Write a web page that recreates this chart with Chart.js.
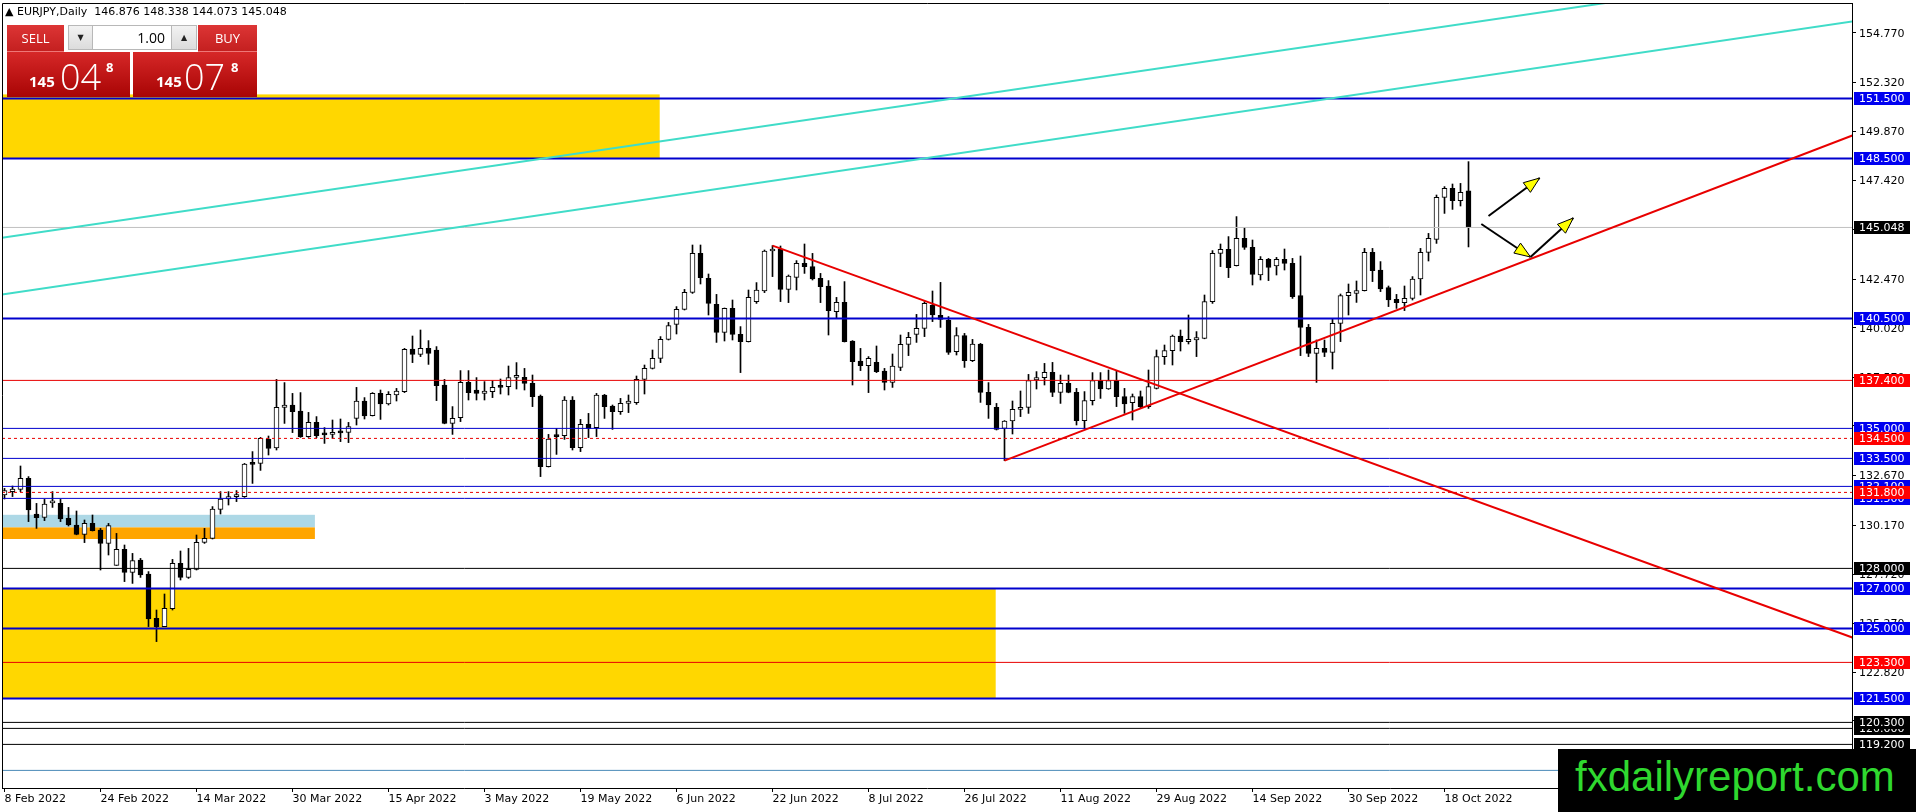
<!DOCTYPE html>
<html><head><meta charset="utf-8">
<script src="https://cdn.jsdelivr.net/npm/chart.js@4.4.1/dist/chart.umd.min.js"></script>
<style>
html,body{margin:0;padding:0;background:#fff;overflow:hidden}
#wrap{position:relative;width:1916px;height:812px;background:#fff}
#c{position:absolute;left:0;top:0}
.abs{position:absolute;box-sizing:border-box}
.hdr{left:5px;top:5px;font:11px 'DejaVu Sans';color:#000;white-space:pre;line-height:14px}
.redb{background:linear-gradient(#dd3535,#c42020);color:#fff;font:13px 'Open Sans';text-align:center}
.gbtn{background:linear-gradient(#f2f2f2,#dcdcdc);border:1px solid #b8b8b8;font:8px 'DejaVu Sans';color:#222;text-align:center;line-height:23px}
.inp{background:#fff;border:1px solid #b8b8b8;font:14px 'Open Sans';color:#000;text-align:right;padding-right:6px;line-height:23px}
.big{background:linear-gradient(#d62828,#a80404);color:#fff;font-family:'Open Sans'}
.big .s{position:absolute;font-weight:bold;font-size:15px;bottom:6px}
.big .b{position:absolute;font-weight:300;font-size:36px;bottom:2px;line-height:36px}
.big .p{position:absolute;font-weight:bold;font-size:13px;top:6px}
.wm{left:1558px;top:749px;width:358px;height:63px;background:#000;color:#2fd82f;font:42px 'Liberation Sans';line-height:55px;padding-left:17px;white-space:nowrap}
</style></head><body>
<div id="wrap">
<canvas id="c" width="1916" height="812"></canvas>
<div class="abs hdr">▲ EURJPY,Daily  146.876 148.338 144.073 145.048</div>
<div class="abs redb" style="left:7px;top:25px;width:57px;height:27px;line-height:26px;border-bottom:1px solid #e77">SELL</div>
<div class="abs gbtn" style="left:68px;top:25px;width:25px;height:25px">▼</div>
<div class="abs inp" style="left:92px;top:25px;width:80px;height:25px">1.00</div>
<div class="abs gbtn" style="left:171px;top:25px;width:26px;height:25px">▲</div>
<div class="abs redb" style="left:198px;top:25px;width:59px;height:27px;line-height:26px;border-bottom:1px solid #e77">BUY</div>
<div class="abs big" style="left:7px;top:52px;width:123px;height:45px">
  <span class="s" style="left:22px">145</span><span class="b" style="left:53px">04</span><span class="p" style="left:99px">8</span>
</div>
<div class="abs big" style="left:133px;top:52px;width:124px;height:45px">
  <span class="s" style="left:23px">145</span><span class="b" style="left:51px">07</span><span class="p" style="left:98px">8</span>
</div>
<div class="abs wm">fxdailyreport.com</div>
</div>
<script>
// ---------- DATA ----------
const opens  = [131.67,131.84,131.95,132.50,130.72,130.55,131.28,131.25,130.50,130.17,129.70,130.25,129.92,129.25,128.15,128.95,127.80,128.42,127.72,125.50,125.09,125.99,128.25,127.55,127.95,129.30,129.50,130.95,131.47,131.59,131.59,133.25,133.25,134.47,134.03,136.05,136.17,135.87,134.59,135.30,134.70,134.70,134.80,134.80,135.50,136.37,135.64,136.75,136.22,136.67,136.84,138.97,138.70,139.00,138.92,137.17,135.25,135.54,137.30,136.92,136.75,136.84,137.09,137.09,137.55,137.55,137.25,136.62,133.09,134.67,134.64,136.42,134.04,135.20,135.04,136.67,136.12,135.84,136.25,136.29,137.45,138.00,138.50,139.45,140.20,140.95,141.80,143.75,142.50,141.20,139.80,141.00,139.70,139.34,141.34,141.87,143.87,143.95,141.95,142.55,143.25,143.09,142.50,142.12,140.84,141.30,139.37,138.37,138.14,138.30,137.87,137.30,138.05,139.20,139.70,140.00,141.17,140.65,140.42,138.84,139.64,138.39,139.22,136.80,136.05,135.00,135.37,135.95,136.05,137.42,137.54,137.80,136.80,137.25,136.80,135.39,136.39,137.39,136.97,137.39,136.59,136.29,136.59,136.09,137.00,138.59,138.89,139.62,139.34,139.42,139.50,141.34,143.75,143.95,143.14,144.50,144.05,142.67,143.45,143.12,143.45,143.25,141.64,140.05,138.75,139.00,138.80,140.25,141.64,141.75,141.89,143.80,142.92,142.04,141.45,141.29,141.50,142.47,143.80,144.45,146.55,147.00,146.39,146.876];
const highs  = [132.00,132.12,133.12,132.59,131.25,131.45,131.84,131.45,131.05,130.87,130.42,130.67,130.00,130.25,129.75,129.17,128.75,128.50,127.84,125.92,126.72,128.45,128.87,129.00,129.67,130.00,131.09,131.84,131.84,131.89,133.25,133.84,134.55,134.62,137.45,137.29,136.75,136.79,135.80,135.59,135.04,135.42,135.47,135.30,137.05,136.54,136.79,136.92,136.84,137.00,139.00,139.62,139.92,139.39,139.09,137.45,136.09,137.89,137.89,137.54,137.34,137.39,137.47,138.12,138.29,138.00,137.67,136.67,134.70,135.00,136.59,136.59,135.45,135.75,136.75,136.70,136.17,136.50,136.67,137.62,138.17,138.92,139.59,140.30,141.09,141.95,144.17,144.17,142.72,141.70,141.02,141.42,140.09,141.92,142.29,143.92,144.14,144.12,142.67,143.39,144.22,143.75,142.75,142.39,141.55,142.34,139.39,139.00,138.59,139.12,138.00,138.72,139.67,139.80,140.70,141.34,141.87,142.30,140.59,140.04,139.75,139.45,139.25,137.29,136.25,135.39,136.37,136.87,137.70,137.84,138.25,138.30,137.67,137.67,137.00,136.84,137.79,137.79,137.92,137.87,137.00,136.72,136.87,137.92,138.92,139.17,139.67,139.92,140.67,139.84,141.67,143.89,144.22,144.59,145.59,145.05,144.42,143.59,143.50,143.55,143.97,143.50,143.62,140.20,139.42,139.42,140.50,141.72,142.22,142.37,144.00,144.00,143.34,142.12,141.70,142.12,142.59,144.00,144.75,146.67,147.09,147.22,147.25,148.338];
const lows   = [131.47,131.59,131.84,130.34,130.00,130.39,131.05,130.34,130.12,129.68,129.29,129.87,127.92,128.67,128.15,127.34,127.25,127.55,125.09,124.34,125.09,125.92,127.42,127.50,127.92,129.25,129.47,130.72,131.17,131.34,131.55,132.25,132.90,133.67,133.92,135.25,134.79,134.55,134.55,134.54,134.25,134.50,134.34,134.29,135.17,135.47,135.62,135.45,136.17,136.37,136.79,138.29,138.59,138.20,136.39,135.23,134.70,135.34,136.42,136.42,136.42,136.54,136.72,136.67,136.97,136.92,136.09,132.59,133.07,133.70,134.45,133.92,133.84,134.54,134.59,135.50,134.95,135.70,135.79,136.20,136.72,137.97,138.29,139.42,139.72,140.92,141.75,142.22,140.67,139.30,139.37,139.42,137.79,139.32,141.25,141.79,142.59,141.34,141.29,141.92,142.75,142.42,141.29,139.67,140.50,139.32,137.17,137.89,136.79,137.79,136.92,137.05,137.89,138.64,139.30,139.59,140.34,140.05,138.70,138.67,138.05,138.34,136.30,135.50,134.92,133.39,134.72,135.59,135.75,136.97,137.17,136.59,136.25,136.78,135.17,135.00,136.17,136.50,136.95,136.09,135.75,135.42,136.00,136.00,136.97,138.20,138.17,138.87,139.22,138.59,139.48,141.25,143.09,142.54,143.12,143.95,142.17,142.42,142.39,142.67,142.92,141.50,138.64,138.59,137.30,138.59,137.97,139.34,140.67,141.30,141.87,142.34,141.84,141.09,141.00,140.89,141.42,141.67,143.37,144.25,145.75,145.95,146.12,144.073];
const closes = [131.89,131.97,132.50,130.92,130.54,131.22,131.30,130.47,130.17,129.70,130.25,129.89,129.25,130.14,128.95,127.80,128.39,127.67,125.47,125.09,126.00,128.25,127.55,127.95,129.30,129.50,130.97,131.47,131.59,131.60,133.22,133.20,134.50,134.00,136.05,136.17,135.84,134.59,135.30,134.64,134.68,134.80,134.78,135.09,136.37,135.62,136.75,136.22,136.70,136.87,138.95,138.70,139.00,138.75,137.14,135.25,135.50,137.30,136.79,136.75,136.87,137.05,137.05,137.54,137.56,137.25,136.59,133.09,134.47,134.59,136.42,134.04,135.20,135.00,136.67,136.09,135.84,136.25,136.37,137.45,138.00,138.50,139.45,140.14,140.95,141.80,143.75,142.54,141.25,139.80,141.00,139.70,139.34,141.55,141.92,143.87,143.95,141.95,142.62,143.25,143.09,142.47,142.09,140.89,141.30,139.34,138.34,138.14,138.50,137.84,137.30,138.12,139.20,139.55,140.00,141.25,140.67,140.45,138.80,139.64,138.39,139.22,136.80,136.17,134.95,135.37,135.95,136.05,137.39,137.54,137.80,136.80,137.25,136.80,135.39,136.39,137.39,136.97,137.39,136.59,136.22,136.59,136.09,137.09,138.59,138.89,139.62,139.34,139.45,139.54,141.34,143.75,143.95,143.04,144.50,144.05,142.70,143.45,143.05,143.45,143.25,141.59,140.05,138.75,139.00,138.80,140.25,141.64,141.80,141.89,143.80,142.89,141.97,141.42,141.29,141.50,142.47,143.80,144.50,146.55,147.00,146.39,146.80,145.048];

const dateLabels   = ['8 Feb 2022','24 Feb 2022','14 Mar 2022','30 Mar 2022','15 Apr 2022','3 May 2022','19 May 2022','6 Jun 2022','22 Jun 2022','8 Jul 2022','26 Jul 2022','11 Aug 2022','29 Aug 2022','14 Sep 2022','30 Sep 2022','18 Oct 2022'];
const dateLabelBars = [0,12,24,36,48,60,72,84,96,108,120,132,144,156,168,180];
const priceTicks   = [154.77,152.32,149.87,147.42,144.97,142.47,140.02,137.57,135.12,132.67,130.17,127.72,125.27,122.82,120.37,117.92];

// horizontal levels (prices)
const blueMajorLevels = [151.5,148.5,140.5,127.0,125.0,121.5];
const blueMinorLevels = [135.0,133.5,132.1,131.5];
const redLevels       = [137.4,123.3];
const redDashedLevels = [134.5,131.8];
const blackLevels     = [119.2,120.0,120.3,128.0];
const bidPrice        = 145.048;
const steelLevels     = [117.9];

// zones: bar end, price top, price bottom (all start at the left edge)
const zoneEndBar = [81.9,123.9,38.8,38.8];
const zoneTop    = [151.7,127.0,130.68,130.05];
const zoneBottom = [148.5,121.5,130.05,129.47];

// trend lines (bar, price) -> (bar, price)
const trendFromBar   = [96,125,-0.3125,-0.3125];
const trendFromPrice = [144.14,133.39,144.53,141.70];
const trendToBar     = [231,231,231,231];
const trendToPrice   = [124.54,149.65,158.08,155.35];

// arrows
const arrowFromBar   = [185.5,184.6,190.75];
const arrowFromPrice = [145.62,145.22,143.57];
const arrowToBar     = [191.9,190.75,196.1];
const arrowToPrice   = [147.52,143.57,145.52];

// ---------- CHART ----------
const X_MIN=-0.3125, X_MAX=230.9375, Y_MIN=117.02, Y_MAX=156.27;
const FONT={family:'DejaVu Sans',size:11};
const BLUE='#0000cd', RED='#e80000', BLACK='#000000';

const wickData = opens.map((o,i)=>({x:i,y:[lows[i],highs[i]]}));
const bodyData = opens.map((o,i)=>({x:i,y:[o,closes[i]]}));
const bodyColors = opens.map((o,i)=> closes[i]>=o ? '#ffffff' : '#000000');

function hline(p,color,width,dash){
  return {type:'line',data:[{x:X_MIN,y:p},{x:X_MAX,y:p}],borderColor:color,borderWidth:width,
    borderDash:dash||[],pointRadius:0,fill:false,tension:0,clip:0,order:10};
}
const datasets=[
  {type:'bar',data:wickData,backgroundColor:'#000',borderWidth:0,barThickness:1,grouped:false,order:30},
  {type:'bar',data:bodyData,backgroundColor:bodyColors,borderColor:'#000',borderWidth:1,borderSkipped:false,barThickness:5,minBarLength:2,grouped:false,order:29}
];
steelLevels.forEach(p=>datasets.push(hline(p,'#4a8ab8',1)));
datasets.push(hline(bidPrice,'#c0c0c0',1));
blackLevels.forEach(p=>datasets.push(hline(p,BLACK,1)));
redLevels.forEach(p=>datasets.push(hline(p,RED,1)));
redDashedLevels.forEach(p=>datasets.push(hline(p,RED,1,[3,3])));
blueMinorLevels.forEach(p=>datasets.push(hline(p,BLUE,1)));
blueMajorLevels.forEach(p=>datasets.push(hline(p,BLUE,2)));
const trendColors=[RED,RED,'#40dcc8','#40dcc8'];
trendFromBar.forEach((b,i)=>datasets.push({type:'line',
  data:[{x:b,y:trendFromPrice[i]},{x:trendToBar[i],y:trendToPrice[i]}],
  borderColor:trendColors[i],borderWidth:2,pointRadius:0,fill:false,tension:0,clip:0,order:2}));

const zoneColors=['#ffd700','#ffd700','#add8e6','#ffa500'];
const zonesPlugin={id:'zones',beforeDatasetsDraw(chart){
  const {ctx,chartArea:a,scales:{x,y}}=chart;
  ctx.save();ctx.beginPath();ctx.rect(a.left,a.top,a.width,a.height);ctx.clip();
  zoneEndBar.forEach((e,i)=>{
    const x0=x.getPixelForValue(X_MIN),x1=x.getPixelForValue(e);
    const y0=y.getPixelForValue(zoneTop[i]),y1=y.getPixelForValue(zoneBottom[i]);
    ctx.fillStyle=zoneColors[i];ctx.fillRect(x0,y0,x1-x0,y1-y0);
  });
  ctx.restore();
}};

function head(ctx,x0,y0,x1,y1){
  const ang=Math.atan2(y1-y0,x1-x0),L=16,W=6;
  const bx=x1-L*Math.cos(ang),by=y1-L*Math.sin(ang),px=-Math.sin(ang),py=Math.cos(ang);
  ctx.beginPath();ctx.moveTo(x1,y1);ctx.lineTo(bx+px*W,by+py*W);ctx.lineTo(bx-px*W,by-py*W);ctx.closePath();
  ctx.fillStyle='#ffff00';ctx.fill();ctx.lineWidth=1;ctx.strokeStyle='#000';ctx.stroke();
}
const arrowsPlugin={id:'arrows',afterDatasetsDraw(chart){
  const {ctx,scales:{x,y}}=chart;
  ctx.save();
  arrowFromBar.forEach((b,i)=>{
    const x0=x.getPixelForValue(b),y0=y.getPixelForValue(arrowFromPrice[i]);
    const x1=x.getPixelForValue(arrowToBar[i]),y1=y.getPixelForValue(arrowToPrice[i]);
    ctx.beginPath();ctx.moveTo(x0,y0);ctx.lineTo(x1,y1);ctx.lineWidth=2;ctx.strokeStyle='#000';ctx.stroke();
  });
  arrowFromBar.forEach((b,i)=>{
    head(ctx,x.getPixelForValue(b),y.getPixelForValue(arrowFromPrice[i]),
         x.getPixelForValue(arrowToBar[i]),y.getPixelForValue(arrowToPrice[i]));
  });
  ctx.restore();
}};

const labelsPlugin={id:'levelLabels',afterDraw(chart){
  const {ctx,chartArea:a,scales:{y}}=chart;
  ctx.save();
  ctx.strokeStyle='#000';ctx.lineWidth=1;ctx.beginPath();
  ctx.moveTo(a.left+0.5,a.bottom);ctx.lineTo(a.left+0.5,a.top+0.5);ctx.lineTo(a.right,a.top+0.5);ctx.stroke();
  ctx.font="11px 'DejaVu Sans'";ctx.textBaseline='middle';ctx.textAlign='left';
  const put=(p,bg)=>{
    const py=Math.round(y.getPixelForValue(p));
    ctx.fillStyle=bg;ctx.fillRect(a.right+2,py-6,56,13);
    ctx.fillStyle='#fff';ctx.fillText(p.toFixed(3),a.right+7,py+1);
  };
  blueMajorLevels.concat(blueMinorLevels).forEach(p=>put(p,'#0000f0'));
  redLevels.concat(redDashedLevels).forEach(p=>put(p,'#ff0000'));
  blackLevels.forEach(p=>put(p,'#000'));
  put(bidPrice,'#000');
  ctx.restore();
}};

new Chart(document.getElementById('c'),{
  type:'bar',
  data:{datasets},
  options:{
    responsive:false,animation:false,devicePixelRatio:1,
    layout:{padding:{left:2,top:3,right:0,bottom:0},autoPadding:false},
    plugins:{legend:{display:false},tooltip:{enabled:false}},
    events:[],
    scales:{
      x:{type:'linear',min:X_MIN,max:X_MAX,offset:false,position:'bottom',bounds:'data',
        grid:{drawOnChartArea:false,drawTicks:true,tickLength:4,color:'#000',offset:false},
        border:{display:true,color:'#000',width:1},
        afterBuildTicks:s=>{s.ticks=dateLabelBars.map(v=>({value:v}));},
        afterFit:s=>{s.height=24;s.paddingLeft=0;s.paddingRight=0;s.paddingTop=0;s.paddingBottom=0;},
        ticks:{align:'start',autoSkip:false,maxRotation:0,minRotation:0,padding:1,color:'#000',font:FONT,
          callback:(v,i)=>dateLabels[i]}
      },
      y:{type:'linear',min:Y_MIN,max:Y_MAX,position:'right',bounds:'data',
        grid:{drawOnChartArea:false,drawTicks:true,tickLength:4,color:'#000'},
        border:{display:true,color:'#000',width:1},
        afterBuildTicks:s=>{s.ticks=priceTicks.map(v=>({value:v}));},
        afterFit:s=>{s.width=64;s.paddingTop=0;s.paddingBottom=0;s.paddingLeft=0;s.paddingRight=0;},
        ticks:{autoSkip:false,padding:3,color:'#000',font:FONT,labelOffset:1,callback:v=>Number(v).toFixed(3)}
      }
    }
  },
  plugins:[zonesPlugin,arrowsPlugin,labelsPlugin]
});
</script>
</body></html>
